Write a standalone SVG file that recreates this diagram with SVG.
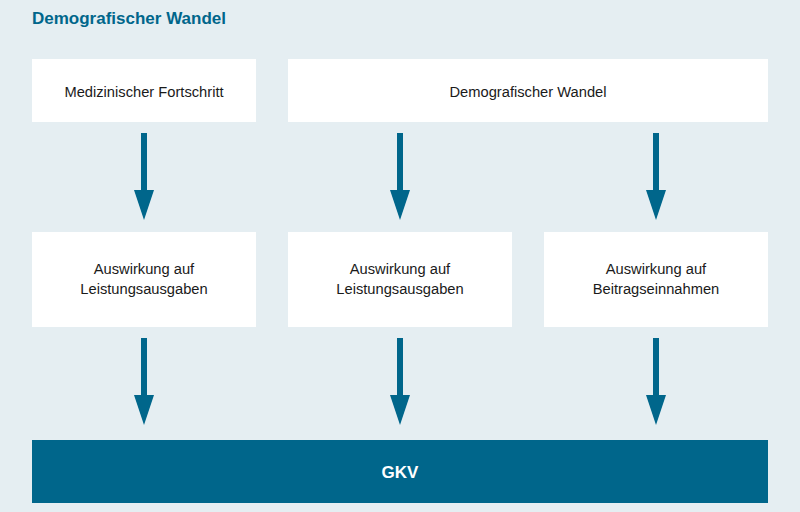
<svg xmlns="http://www.w3.org/2000/svg" width="800" height="512" viewBox="0 0 800 512">
<defs>
<style>
.bg{fill:#e5eef2}
.box{fill:#ffffff}
.t{font-family:"Liberation Sans","Noto Sans",sans-serif;font-size:14.7px;fill:#1a1a1a;text-anchor:middle}
.title{font-family:"Liberation Sans","Noto Sans",sans-serif;font-size:17px;font-weight:bold;fill:#00668b}
.gkv{fill:#00668b}
.gt{font-family:"Liberation Sans","Noto Sans",sans-serif;font-size:17px;font-weight:bold;fill:#ffffff;text-anchor:middle}
.head{fill:#00668b}
</style>
</defs>
<rect class="bg" x="0" y="0" width="800" height="512"/>
<text class="title" x="32" y="24">Demografischer Wandel</text>
<g id="medizin"><rect class="box" x="32" y="59" width="224" height="63"/><text class="t" x="144" y="97">Medizinischer Fortschritt</text></g>
<g id="demografie"><rect class="box" x="288" y="59" width="480" height="63"/><text class="t" x="528" y="97">Demografischer Wandel</text></g>
<g id="ausw1"><rect class="box" x="32" y="232" width="224" height="95"/><text class="t" x="144" y="274">Auswirkung auf</text><text class="t" x="144" y="294">Leistungsausgaben</text></g>
<g id="ausw2"><rect class="box" x="288" y="232" width="224" height="95"/><text class="t" x="400" y="274">Auswirkung auf</text><text class="t" x="400" y="294">Leistungsausgaben</text></g>
<g id="ausw3"><rect class="box" x="544" y="232" width="224" height="95"/><text class="t" x="656" y="274">Auswirkung auf</text><text class="t" x="656" y="294">Beitragseinnahmen</text></g>
<g id="gkv"><rect class="gkv" x="32" y="440" width="736" height="63"/><text class="gt" x="400" y="478">GKV</text></g>
<g id="connectors">
<path class="head" d="M141,133 V190 H134 L144,220 L154,190 H147 V133 Z"/>
<path class="head" d="M397,133 V190 H390 L400,220 L410,190 H403 V133 Z"/>
<path class="head" d="M653,133 V190 H646 L656,220 L666,190 H659 V133 Z"/>
<path class="head" d="M141,338 V395 H134 L144,425 L154,395 H147 V338 Z"/>
<path class="head" d="M397,338 V395 H390 L400,425 L410,395 H403 V338 Z"/>
<path class="head" d="M653,338 V395 H646 L656,425 L666,395 H659 V338 Z"/>
</g>
</svg>
